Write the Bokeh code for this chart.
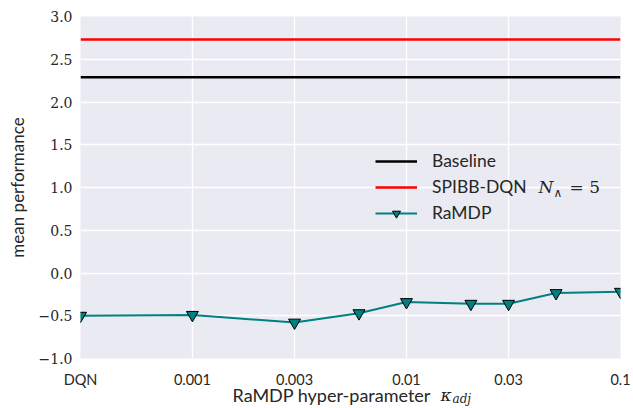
from bokeh.plotting import figure
from bokeh.models import FixedTicker, Legend, LegendItem, Label, Range1d, Title
from bokeh.embed import file_html
from bokeh.resources import INLINE

# ---- data ----
kappa = [0.0003, 0.001, 0.003, 0.006, 0.01, 0.02, 0.03, 0.05, 0.1]
ramdp = [-0.50, -0.49, -0.58, -0.47, -0.34, -0.36, -0.36, -0.235, -0.22]
baseline_value = 2.29
spibb_value = 2.73
x_ticks = [0.0003, 0.001, 0.003, 0.01, 0.03, 0.1]
x_tick_labels = ["DQN", "0.001", "0.003", "0.01", "0.03", "0.1"]
y_ticks = [-1.0, -0.5, 0.0, 0.5, 1.0, 1.5, 2.0, 2.5, 3.0]
y_tick_labels = ["\u22121.0", "\u22120.5", "0.0", "0.5", "1.0", "1.5", "2.0", "2.5", "3.0"]

TEXT = "#262626"

p = figure(width=633, height=408, x_axis_type="log",
           x_range=Range1d(kappa[0], kappa[-1]), y_range=Range1d(y_ticks[0], y_ticks[-1]),
           output_backend="svg", toolbar_location=None,
           min_border_left=80, min_border_right=13, min_border_top=16, min_border_bottom=50)

p.background_fill_color = "#EAEAF2"
p.border_fill_color = "white"
p.outline_line_color = None

p.xaxis.ticker = FixedTicker(ticks=x_ticks, minor_ticks=[])
p.yaxis.ticker = FixedTicker(ticks=y_ticks, minor_ticks=[])
p.xaxis.major_label_overrides = dict(zip(x_ticks, x_tick_labels))
p.yaxis.major_label_overrides = dict(zip(y_ticks, y_tick_labels))

for ax in (p.xaxis[0], p.yaxis[0]):
    ax.axis_line_color = None
    ax.major_tick_line_color = None
    ax.minor_tick_line_color = None
    ax.major_tick_out = 0
    ax.major_label_text_color = TEXT
    ax.axis_label_text_color = TEXT
    ax.axis_label_text_font = "Lato"
    ax.axis_label_text_font_style = "normal"

p.xaxis.major_label_text_font = "Lato"
p.xaxis.major_label_text_font_size = "14.5px"
p.xaxis.major_label_standoff = 12
# tiny spacer label; the visible x label is drawn by the titles below
p.xaxis.axis_label = "\u00a0"
p.xaxis.axis_label_text_font_size = "1px"
p.xaxis.axis_label_standoff = 0

p.yaxis.major_label_text_font = "DejaVu Serif"
p.yaxis.major_label_text_font_size = "14px"
p.yaxis.major_label_standoff = 8
p.yaxis.axis_label = "mean performance"
p.yaxis.axis_label_text_font_size = "17px"
p.yaxis.axis_label_standoff = 8

p.xgrid.ticker = FixedTicker(ticks=x_ticks, minor_ticks=[])
p.ygrid.ticker = FixedTicker(ticks=y_ticks, minor_ticks=[])
p.grid.grid_line_color = "white"
p.grid.grid_line_width = 1.3

r_base = p.line([kappa[0], kappa[-1]], [baseline_value, baseline_value], color="black", line_width=2.5)
r_spibb = p.line([kappa[0], kappa[-1]], [spibb_value, spibb_value], color="#FF0000", line_width=2.5)
r_line = p.line(kappa, ramdp, color="#008080", line_width=2)
r_pts = p.scatter(kappa, ramdp, marker="inverted_triangle", size=12,
                  fill_color="#008080", line_color="black", line_width=1)

legend = Legend(items=[LegendItem(label="Baseline", renderers=[r_base]),
                       LegendItem(label="SPIBB-DQN", renderers=[r_spibb]),
                       LegendItem(label="RaMDP", renderers=[r_line, r_pts])],
                location=(295, 135), background_fill_alpha=0, border_line_color=None,
                padding=0, margin=0, spacing=5, glyph_width=42, glyph_height=20,
                label_height=20, label_standoff=15, label_text_font="Lato",
                label_text_font_size="17.5px", label_text_color=TEXT)
p.add_layout(legend)

# math part of the legend label
p.add_layout(Label(x=458, y=172, x_units="screen", y_units="screen", text="N",
                   text_font="DejaVu Serif", text_font_style="italic", text_font_size="17px",
                   text_baseline="middle", text_color=TEXT))
p.add_layout(Label(x=473, y=166, x_units="screen", y_units="screen", text="\u2227",
                   text_font="DejaVu Serif", text_font_size="12px",
                   text_baseline="middle", text_color=TEXT))
p.add_layout(Label(x=489, y=172, x_units="screen", y_units="screen", text="= 5",
                   text_font="DejaVu Serif", text_font_size="17px",
                   text_baseline="middle", text_color=TEXT))

# x axis label: text + kappa_adj, as titles sharing one line below the tick labels
t_main = Title(text="RaMDP hyper-parameter", align="left", offset=152, standoff=-24,
               vertical_align="middle", text_font="Lato", text_font_size="18px",
               text_font_style="normal", text_color=TEXT)
t_kappa = Title(text="\u03ba", align="left", offset=360, standoff=-22,
                vertical_align="middle", text_font="DejaVu Serif", text_font_size="17px",
                text_font_style="italic", text_color=TEXT)
t_adj = Title(text="adj", align="left", offset=372, standoff=-8,
              vertical_align="middle", text_font="DejaVu Serif", text_font_size="12px",
              text_font_style="italic", text_color=TEXT)
p.add_layout(t_main, "below")
p.add_layout(t_kappa, "below")
p.add_layout(t_adj, "below")

open("out.html", "w").write(file_html(p, INLINE))
